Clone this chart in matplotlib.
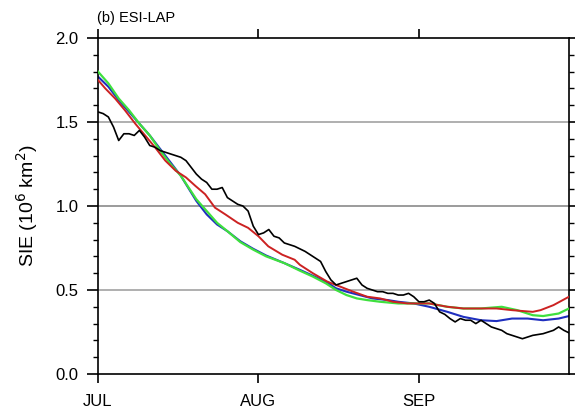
import matplotlib
matplotlib.use("Agg")
import matplotlib.pyplot as plt
from matplotlib.ticker import MultipleLocator

plt.rcParams["font.family"] = ["Liberation Sans", "DejaVu Sans"]

# Days since 1 July
obs_days = list(range(0, 92))
obs_sie = [1.56, 1.55, 1.53, 1.47, 1.39, 1.43, 1.43, 1.42, 1.45, 1.41,
           1.36, 1.35, 1.33, 1.32, 1.31, 1.30, 1.29, 1.27, 1.23, 1.19,
           1.16, 1.14, 1.10, 1.10, 1.11, 1.05, 1.03, 1.01, 1.00, 0.97,
           0.88, 0.83, 0.84, 0.86, 0.82, 0.81, 0.78, 0.77, 0.76, 0.745,
           0.73, 0.71, 0.69, 0.67, 0.61, 0.56, 0.53, 0.54, 0.55, 0.56,
           0.57, 0.53, 0.51, 0.50, 0.49, 0.49, 0.48, 0.48, 0.47, 0.47,
           0.48, 0.46, 0.43, 0.43, 0.44, 0.42, 0.37, 0.355, 0.33, 0.31,
           0.33, 0.32, 0.32, 0.30, 0.32, 0.30, 0.28, 0.27, 0.26, 0.24,
           0.23, 0.22, 0.21, 0.22, 0.23, 0.235, 0.24, 0.25, 0.26, 0.28,
           0.26, 0.245]

blue_days = [0, 2, 4, 6, 8, 10, 12, 14, 16, 19, 21, 23, 25, 27.5, 30, 32.5,
             36, 39, 41.5, 44, 46, 48, 50.5, 53, 56, 58, 61, 64, 67.5, 70.6,
             74, 77, 80, 83, 86, 89, 91]
blue_sie = [1.77, 1.71, 1.63, 1.56, 1.49, 1.42, 1.34, 1.26, 1.18, 1.03,
            0.95, 0.89, 0.85, 0.79, 0.745, 0.705, 0.66, 0.62, 0.585, 0.55,
            0.51, 0.49, 0.47, 0.45, 0.44, 0.43, 0.42, 0.40, 0.37, 0.34,
            0.32, 0.315, 0.33, 0.33, 0.32, 0.33, 0.345]

green_days = [0, 2, 4, 6, 8, 10, 12, 14, 16, 19, 21, 23, 25, 27.5, 30, 32.5,
              36, 39, 41.5, 44, 46, 48, 50, 52, 54.5, 58, 61, 64, 67.5, 70.6,
              74, 78, 81, 84, 86, 89, 91]
green_sie = [1.80, 1.73, 1.64, 1.57, 1.49, 1.42, 1.33, 1.25, 1.18, 1.04,
             0.97, 0.90, 0.85, 0.785, 0.74, 0.70, 0.66, 0.615, 0.58, 0.54,
             0.50, 0.47, 0.45, 0.44, 0.43, 0.42, 0.42, 0.42, 0.40, 0.39,
             0.39, 0.40, 0.38, 0.35, 0.345, 0.36, 0.39]

red_days = [0, 1.4, 3.3, 5.2, 7.2, 9.1, 11, 13, 15, 17, 18.8, 20.7, 22.6,
            24.6, 27, 29, 31, 32.9, 35.6, 38, 39, 41.5, 44.3, 46.8, 49.3,
            52, 54.5, 57, 59.8, 61, 64, 67.5, 70.6, 74, 77, 80, 84, 85.5,
            88, 91]
red_sie = [1.75, 1.70, 1.64, 1.57, 1.49, 1.42, 1.35, 1.27, 1.21, 1.17,
           1.12, 1.07, 0.99, 0.95, 0.90, 0.87, 0.82, 0.76, 0.71, 0.68,
           0.65, 0.60, 0.55, 0.52, 0.49, 0.46, 0.45, 0.43, 0.42, 0.42,
           0.42, 0.40, 0.39, 0.39, 0.39, 0.38, 0.37, 0.38, 0.41, 0.46]

month_ticks = [0, 31, 62]
month_labels = ["JUL", "AUG", "SEP"]
sie_ticks = [0.0, 0.5, 1.0, 1.5, 2.0]
sie_labels = ["0.0", "0.5", "1.0", "1.5", "2.0"]

fig = plt.figure(figsize=(5.75, 4.2), dpi=100)
ax = fig.add_axes([98 / 575, 46 / 420, 471 / 575, 336 / 420])

for y, c in [(0.5, "#9a9a9a"), (1.0, "#808080"), (1.5, "#9a9a9a")]:
    ax.axhline(y, color=c, lw=1.1, zorder=1)

ax.plot(blue_days, blue_sie, color="#1f2fbf", lw=1.5, zorder=2)
ax.plot(green_days, green_sie, color="#3ee03e", lw=1.6, zorder=3)
ax.plot(red_days, red_sie, color="#cc2222", lw=1.4, zorder=4)
ax.plot(obs_days, obs_sie, color="black", lw=1.2, zorder=5)

ax.set_xlim(0, 91)
ax.set_ylim(0, 2.0)

ax.set_xticks(month_ticks)
ax.set_xticklabels(month_labels)
ax.set_yticks(sie_ticks)
ax.set_yticklabels(sie_labels)
ax.yaxis.set_minor_locator(MultipleLocator(0.1))

ax.tick_params(axis="x", which="major", direction="out", length=6.5, width=1.2,
               top=True, labeltop=False, labelsize=12, pad=8)
ax.tick_params(axis="y", which="major", direction="out", length=8, width=1.2,
               right=True, labelright=False, labelsize=12, pad=6)
ax.tick_params(axis="y", which="minor", direction="out", length=3.8, width=1.0,
               right=True)

for side in ["top", "bottom", "left", "right"]:
    ax.spines[side].set_linewidth(1.2)
    ax.spines[side].set_color("black")

fig.text(97 / 575, 1 - 18 / 420, "(b) ESI-LAP", fontsize=10.5, ha="left",
         va="center")
fig.text(27 / 575, 1 - 206 / 420, "SIE (10$^{6}$ km$^{2}$)", fontsize=14,
         rotation=90, ha="center", va="center")

fig.savefig("out.png", dpi=100)
